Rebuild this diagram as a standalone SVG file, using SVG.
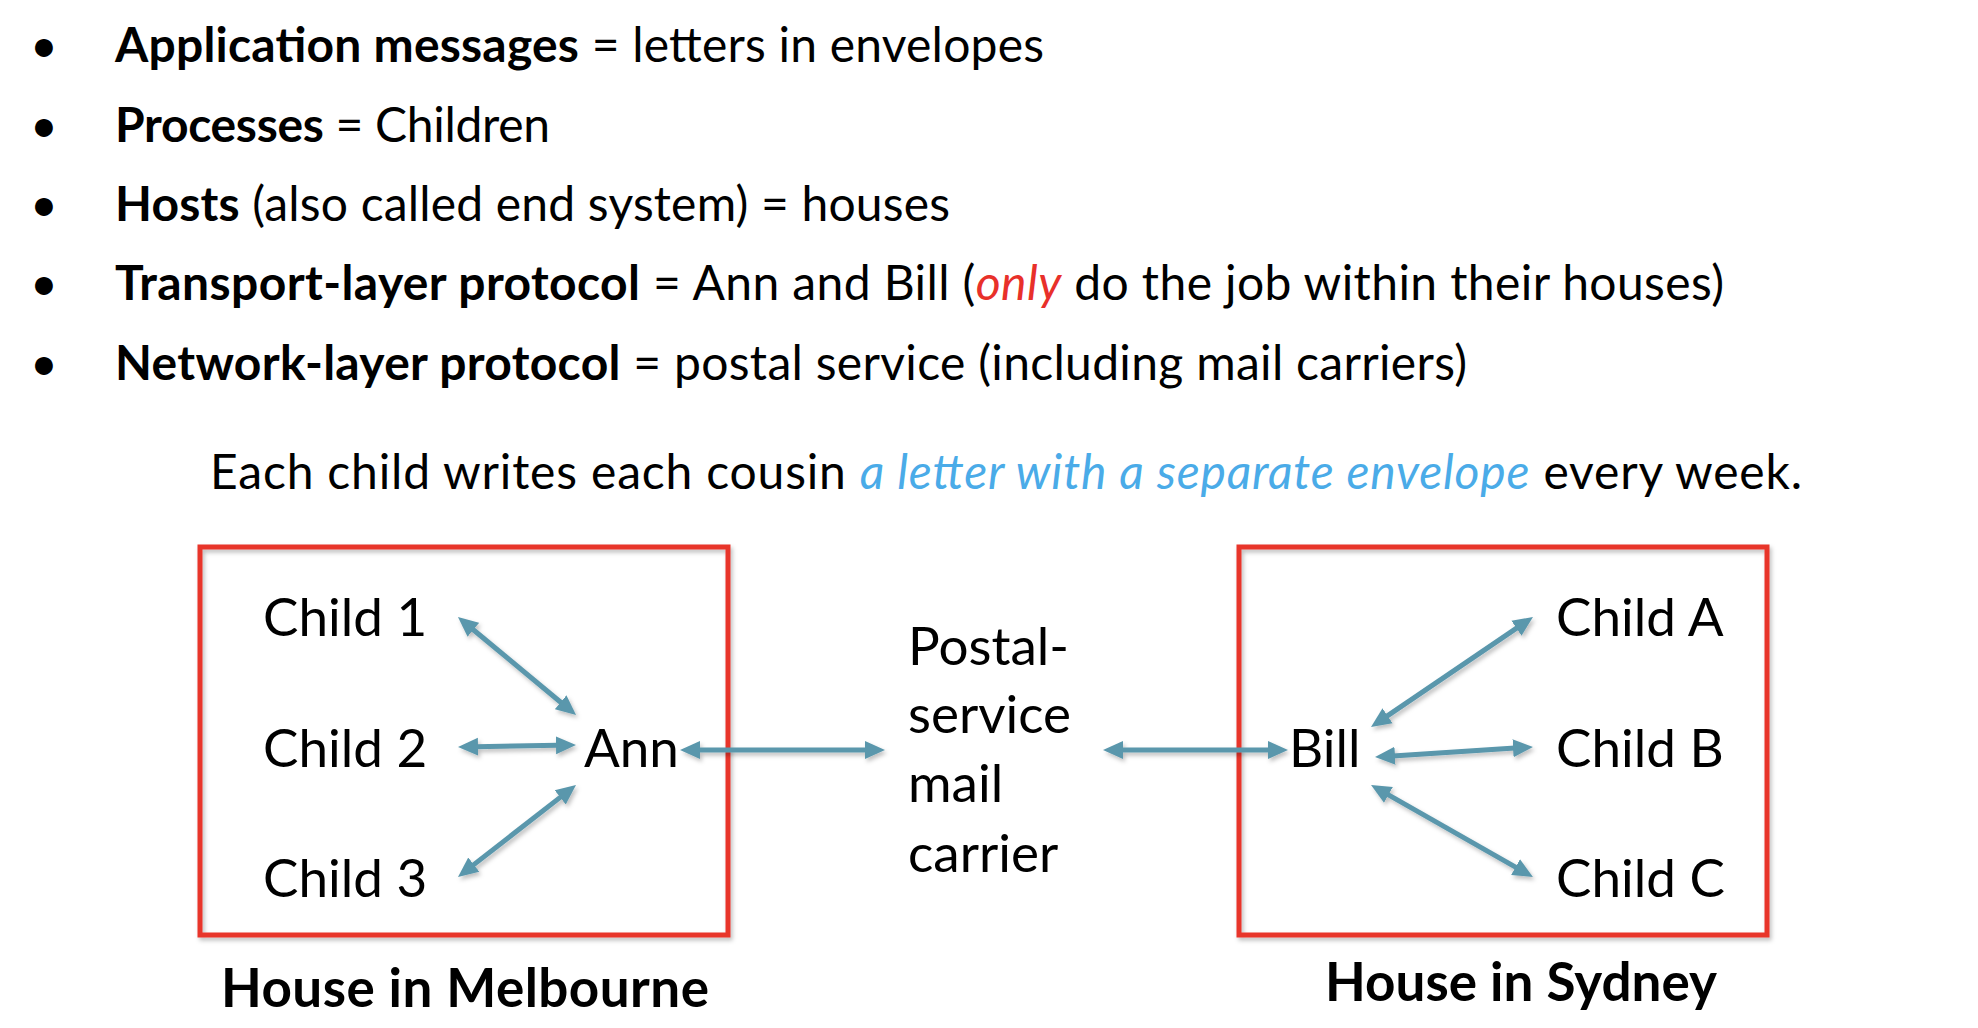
<svg xmlns="http://www.w3.org/2000/svg" width="1978" height="1028" viewBox="0 0 1978 1028">
<style>
text{font-family:Lato,"Liberation Sans",sans-serif;fill:#000}
.b{font-weight:bold}
.bul{font-size:48px}
.lab{font-size:53px}
.hl{font-size:53px;font-weight:bold}
.sent{font-size:48px}
.box{fill:none;stroke:#E8352B;stroke-width:5}
.arr{stroke:#5A97AC;stroke-width:5;fill:none;marker-start:url(#ah);marker-end:url(#ah)}
</style>
<defs>
<marker id="ah" markerUnits="userSpaceOnUse" markerWidth="22" markerHeight="20" refX="2" refY="9" orient="auto-start-reverse" viewBox="0 0 22 18">
<path d="M0,0 L20,9 L0,18 z" fill="#5A97AC"/>
</marker>
<filter id="sh" x="-10%" y="-10%" width="120%" height="130%">
<feDropShadow dx="2" dy="3" stdDeviation="2" flood-color="#000" flood-opacity="0.25"/>
</filter>
</defs>
<g id="bullets" class="bul">
<text x="44" y="62" text-anchor="middle">•</text>
<text x="115" y="62" textLength="929" lengthAdjust="spacing"><tspan class="b">Application messages</tspan> = letters in envelopes</text>
<text x="44" y="142" text-anchor="middle">•</text>
<text x="115" y="142" textLength="435" lengthAdjust="spacing"><tspan class="b">Processes</tspan> = Children</text>
<text x="44" y="221" text-anchor="middle">•</text>
<text x="115" y="221" textLength="835" lengthAdjust="spacing"><tspan class="b">Hosts</tspan> (also called end system) = houses</text>
<text x="44" y="300" text-anchor="middle">•</text>
<text x="115" y="300" textLength="1609" lengthAdjust="spacing"><tspan class="b">Transport-layer protocol</tspan> = Ann and Bill (<tspan font-style="italic" style="fill:#E8302A">only</tspan> do the job within their houses)</text>
<text x="44" y="380" text-anchor="middle">•</text>
<text x="115" y="380" textLength="1352" lengthAdjust="spacing"><tspan class="b">Network-layer protocol</tspan> = postal service (including mail carriers)</text>
</g>
<text id="sentence" class="sent" x="210" y="489" textLength="1592" lengthAdjust="spacing">Each child writes each cousin <tspan font-style="italic" style="fill:#4AABE8">a letter with a separate envelope</tspan> every week.</text>
<g id="melbourne">
<rect class="box" x="200" y="547" width="528" height="388" filter="url(#sh)"/>
<text class="hl" x="221" y="1007" textLength="488" lengthAdjust="spacing">House in Melbourne</text>
</g>
<g id="sydney">
<rect class="box" x="1239" y="547" width="528" height="388" filter="url(#sh)"/>
<text class="hl" x="1325" y="1001" textLength="392" lengthAdjust="spacing">House in Sydney</text>
</g>
<g id="child1"><text class="lab" x="263" y="636">Child 1</text></g>
<g id="child2"><text class="lab" x="263" y="767">Child 2</text></g>
<g id="child3"><text class="lab" x="263" y="897">Child 3</text></g>
<g id="ann"><text class="lab" x="584" y="767">Ann</text></g>
<g id="postal">
<text class="lab" x="908" y="665">Postal-</text>
<text class="lab" x="908" y="733">service</text>
<text class="lab" x="908" y="802">mail</text>
<text class="lab" x="908" y="872">carrier</text>
</g>
<g id="bill"><text class="lab" x="1289" y="767">Bill</text></g>
<g id="childA"><text class="lab" x="1556" y="636">Child A</text></g>
<g id="childB"><text class="lab" x="1556" y="767">Child B</text></g>
<g id="childC"><text class="lab" x="1556" y="897">Child C</text></g>
<g id="connectors" filter="url(#sh)">
<line class="arr" x1="471.8" y1="628.5" x2="562.2" y2="703.5"/>
<line class="arr" x1="476" y1="746.7" x2="558" y2="745.3"/>
<line class="arr" x1="472.2" y1="865.9" x2="561.8" y2="796.1"/>
<line class="arr" x1="698" y1="750" x2="867" y2="750"/>
<line class="arr" x1="1121" y1="750" x2="1270" y2="750"/>
<line class="arr" x1="1385.9" y1="716.9" x2="1518.1" y2="627.1"/>
<line class="arr" x1="1393" y1="755.9" x2="1515" y2="748.1"/>
<line class="arr" x1="1386.7" y1="793.9" x2="1517.3" y2="868.1"/>
</g>
</svg>
